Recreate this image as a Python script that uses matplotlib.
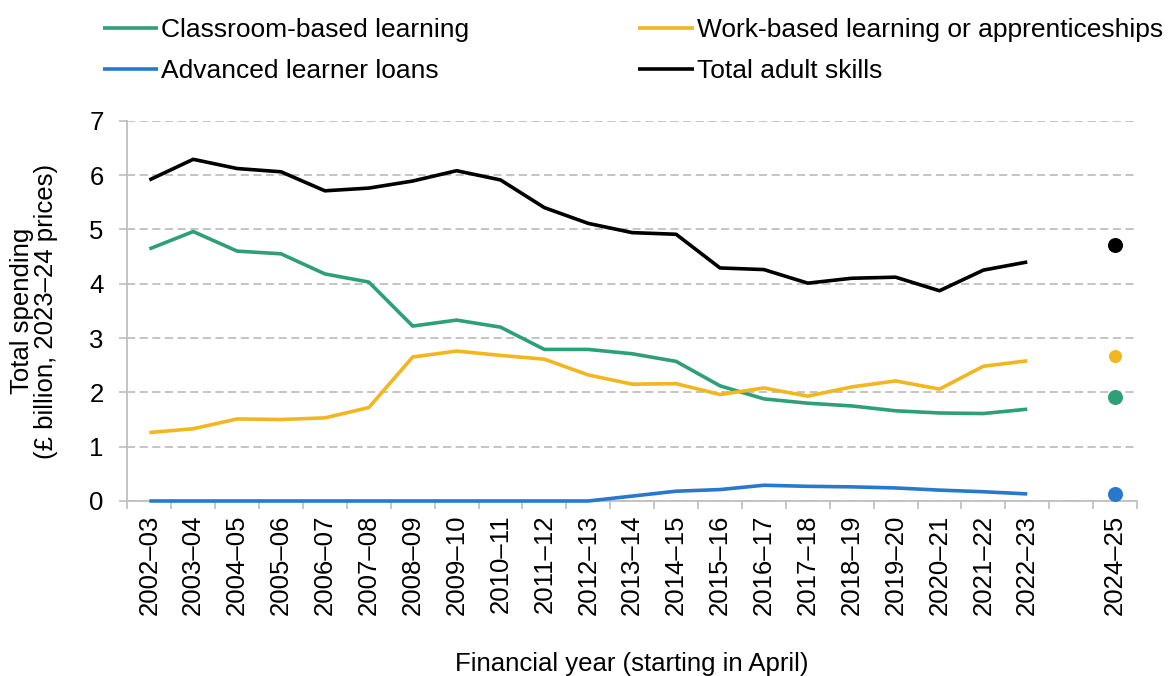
import numpy as np
import matplotlib.pyplot as plt

plt.rcParams['font.family'] = ['Liberation Sans', 'DejaVu Sans']

# financial years; the empty slot keeps a gap before the 2024-25 figure
YEARS = ['2002–03', '2003–04', '2004–05', '2005–06', '2006–07', '2007–08',
         '2008–09', '2009–10', '2010–11', '2011–12', '2012–13', '2013–14',
         '2014–15', '2015–16', '2016–17', '2017–18', '2018–19', '2019–20',
         '2020–21', '2021–22', '2022–23', '', '2024–25']

# £ billion, 2023-24 prices, 2002-03 to 2022-23
classroom = [4.64, 4.96, 4.60, 4.55, 4.18, 4.03, 3.22, 3.33, 3.20, 2.79, 2.79,
             2.71, 2.57, 2.12, 1.88, 1.80, 1.75, 1.66, 1.62, 1.61, 1.69]
work_based = [1.26, 1.33, 1.51, 1.50, 1.53, 1.72, 2.65, 2.76, 2.68, 2.61, 2.32,
              2.15, 2.16, 1.96, 2.08, 1.93, 2.10, 2.21, 2.06, 2.48, 2.58]
loans = [0.00, 0.00, 0.00, 0.00, 0.00, 0.00, 0.00, 0.00, 0.00, 0.00, 0.00,
         0.09, 0.18, 0.21, 0.29, 0.27, 0.26, 0.24, 0.20, 0.17, 0.13]
total = [5.91, 6.29, 6.12, 6.06, 5.71, 5.76, 5.89, 6.08, 5.91, 5.40, 5.11,
         4.94, 4.91, 4.29, 4.26, 4.01, 4.10, 4.12, 3.87, 4.25, 4.40]

# 2024-25 plans
LATEST_YEAR = '2024–25'
latest = {'classroom': 1.92, 'work_based': 2.66, 'loans': 0.13, 'total': 4.71}

GREEN = '#2EA077'
YELLOW = '#F2B61F'
BLUE = '#2878CE'
BLACK = '#000000'
GREY = '#BFBFBF'

fig = plt.figure(figsize=(11.73, 6.76), dpi=100)
ax = fig.add_axes([0.1086, 0.2589, 0.8607, 0.5625])

x = np.arange(len(classroom))
x_latest = YEARS.index(LATEST_YEAR)

series = [
    ('Classroom-based learning', classroom, 'classroom', GREEN, 10.8),
    ('Advanced learner loans', loans, 'loans', BLUE, 10.8),
    ('Work-based learning or apprenticeships', work_based, 'work_based', YELLOW, 9.4),
    ('Total adult skills', total, 'total', BLACK, 10.8),
]

handles = []
for label, values, key, color, msize in series:
    line, = ax.plot(x, values, color=color, lw=2.6, solid_capstyle='butt',
                    label=label, clip_on=False, zorder=3)
    ax.plot([x_latest], [latest[key]], 'o', color=color, ms=msize,
            mec='none', clip_on=False, zorder=3)
    handles.append(line)

ax.set_xlim(-0.5, len(YEARS) - 0.5)
ax.set_ylim(0, 7)
ax.set_yticks(range(0, 8))

# labels in the middle of each slot, tick marks on the slot borders
ax.set_xticks(np.arange(len(YEARS)))
ax.set_xticklabels(YEARS, rotation=90, fontsize=18.5)
ax.set_xticks(np.arange(len(YEARS) + 1) - 0.5, minor=True)
ax.tick_params(axis='x', which='major', length=0, pad=10)
ax.tick_params(axis='x', which='minor', length=6, width=1.2, color=GREY)
ax.tick_params(axis='y', length=6, width=1.2, color=GREY, pad=11, labelsize=18.5)

ax.grid(axis='y', color=GREY, lw=1.3, ls=(0, (4.5, 2.5)), zorder=0)
ax.set_axisbelow(True)
for side in ['top', 'right']:
    ax.spines[side].set_visible(False)
for side in ['left', 'bottom']:
    ax.spines[side].set_color(GREY)
    ax.spines[side].set_linewidth(1.3)

fig.text(0.029, 0.540, 'Total spending\n(£ billion, 2023–24 prices)',
         rotation=90, ha='center', va='center', fontsize=18.5, linespacing=1.05)
fig.text(0.539, 0.018, 'Financial year (starting in April)',
         ha='center', va='center', fontsize=18.5)

fig.legend(handles=handles, ncol=2, loc='upper left',
           bbox_to_anchor=(102.5 / 1173, 0.973), frameon=False, fontsize=19,
           handlelength=2.1, handletextpad=0.12, columnspacing=6.4,
           labelspacing=0.64, borderpad=0, borderaxespad=0)

fig.savefig('out.png', dpi=100)
